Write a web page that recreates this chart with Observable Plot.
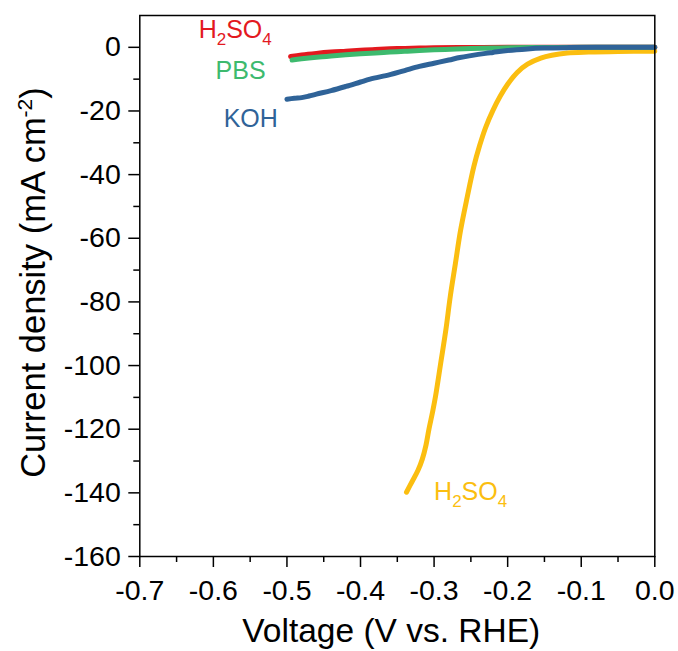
<!DOCTYPE html>
<html><head><meta charset="utf-8">
<script src="https://cdn.jsdelivr.net/npm/d3@7"></script>
<script src="https://cdn.jsdelivr.net/npm/@observablehq/plot@0.6"></script>
<style>body{margin:0;background:#fff}</style>
</head><body><div id="chart"></div>
<script>
// ---- data ----
const redV   = [-0.495,-0.48,-0.46,-0.44,-0.42,-0.40,-0.38,-0.35,-0.32,-0.30,-0.25,-0.20,-0.10,0];
const redJ   = [-2.9,-2.4,-1.9,-1.5,-1.2,-0.9,-0.65,-0.4,-0.25,-0.15,-0.05,0,0,0];
const greenV = [-0.493,-0.48,-0.46,-0.44,-0.42,-0.40,-0.38,-0.36,-0.34,-0.32,-0.30,-0.27,-0.25,-0.22,-0.20,-0.15,-0.10,0];
const greenJ = [-4.0,-3.6,-3.1,-2.7,-2.35,-2.05,-1.75,-1.5,-1.25,-1.0,-0.8,-0.55,-0.4,-0.25,-0.15,-0.05,0,0];
const blueV  = [-0.500,-0.49,-0.48,-0.47,-0.46,-0.44,-0.42,-0.40,-0.387,-0.36,-0.34,-0.32,-0.30,-0.28,-0.265,-0.25,-0.23,-0.22,-0.20,-0.173,-0.15,-0.12,-0.08,0];
const blueJ  = [-16.3,-16.0,-15.8,-15.3,-14.7,-13.6,-12.3,-10.9,-10.0,-8.6,-7.3,-6.0,-5.0,-4.0,-3.2,-2.6,-1.9,-1.6,-1.0,-0.5,-0.25,-0.1,0,0];
const yellowV= [-0.3375,-0.330,-0.322,-0.316,-0.311,-0.307,-0.302,-0.298,-0.291,-0.284,-0.278,-0.271,-0.264,-0.255,-0.246,-0.238,-0.230,-0.220,-0.210,-0.200,-0.187,-0.173,-0.155,-0.140,-0.119,-0.09,-0.05,0];
const yellowJ= [-139.8,-136.5,-133,-129.4,-125,-120,-114.5,-109.6,-99.2,-88.8,-78.3,-67.9,-57.5,-47.1,-37.5,-30.8,-25.2,-19.8,-15.3,-11.6,-7.9,-5.3,-3.4,-2.5,-1.8,-1.5,-1.3,-1.2];

const seriesKeys   = ["yellow","red","green","blue"];
const seriesColors = {red:"#e3191f", green:"#3dba6e", blue:"#2f6398", yellow:"#fbbe10"};
const seriesData   = {red:[redV,redJ], green:[greenV,greenJ], blue:[blueV,blueJ], yellow:[yellowV,yellowJ]};

const labelTexts = ["H2SO4","PBS","KOH","H2SO4"];
const labelKeys  = ["red","green","blue","yellow"];
const labelV     = [-0.62,-0.597,-0.586,-0.30];
const labelJ     = [3,-10,-25,-142.4];

const xTicks = [-0.7,-0.6,-0.5,-0.4,-0.3,-0.2,-0.1,0];
const xMinor = [-0.65,-0.55,-0.45,-0.35,-0.25,-0.15,-0.05];
const yTicks = [-160,-140,-120,-100,-80,-60,-40,-20,0];
const yMinor = [-150,-130,-110,-90,-70,-50,-30,-10];
const xLabel = "Voltage (V vs. RHE)";
const yLabel = "Current density (mA cm";

// ---- build rows ----
const rows = [];
for (const k of seriesKeys) {
  const [V, J] = seriesData[k];
  V.forEach((v, i) => rows.push({series: k, v, j: J[i]}));
}
const labels = labelTexts.map((t, i) => ({t, key: labelKeys[i], v: labelV[i], j: labelJ[i]}));

const font = "'Liberation Sans', Arial, sans-serif";
const svg = Plot.plot({
  width: 678, height: 651,
  marginLeft: 139.3, marginRight: 23.7, marginTop: 15, marginBottom: 95,
  style: {fontFamily: font, background: "#fff", color: "#000"},
  x: {domain: [-0.7, 0]},
  y: {domain: [-160, 10]},
  marks: [
    ...seriesKeys.map(k => Plot.line(rows.filter(r => r.series === k), {
      x: "v", y: "j", stroke: seriesColors[k], strokeWidth: 5,
      strokeLinecap: "round", strokeLinejoin: "round", curve: "catmull-rom"
    })),
    Plot.frame({stroke: "#000", strokeWidth: 1.5}),
    Plot.axisX({ticks: xTicks, tickSize: 11, tickPadding: 12, tickFormat: d => d.toFixed(1),
      fontSize: 28.5, label: null, strokeWidth: 1.5}),
    Plot.axisX({ticks: xMinor, tickSize: 6, tickFormat: () => "", label: null, strokeWidth: 1.5}),
    Plot.axisY({ticks: yTicks, tickSize: 11, tickPadding: 8, tickFormat: d => String(d),
      fontSize: 28.5, label: null, strokeWidth: 1.5}),
    Plot.axisY({ticks: yMinor, tickSize: 6, tickFormat: () => "", label: null, strokeWidth: 1.5}),
    Plot.text(labels, {x: "v", y: "j", text: "t", fill: d => seriesColors[d.key],
      textAnchor: "start", lineAnchor: "bottom", fontSize: 25}),
    Plot.text([xLabel], {text: d => d, frameAnchor: "bottom", lineAnchor: "bottom",
      dx: -6, dy: 85, fontSize: 33.5}),
    Plot.text([yLabel], {text: d => d, frameAnchor: "left", rotate: -90, lineAnchor: "bottom",
      textAnchor: "middle", dx: -94.8, dy: -3.5, fontSize: 34.5})
  ]
});

// subscripts / superscript as real text
d3.select(svg).selectAll("text").each(function() {
  const t = d3.select(this);
  const s = t.text();
  if (s === "H2SO4") {
    t.text(null);
    t.append("tspan").text("H");
    t.append("tspan").attr("font-size", "17").attr("dy", 7).text("2");
    t.append("tspan").attr("dy", -7).text("SO");
    t.append("tspan").attr("font-size", "17").attr("dy", 7).text("4");
  } else if (s === yLabel) {
    t.text(null);
    t.append("tspan").text(yLabel);
    t.append("tspan").attr("font-size", "21").attr("dy", -13).text("-2");
    t.append("tspan").attr("dy", 13).text(")");
  }
});
document.getElementById("chart").append(svg);
</script></body></html>
